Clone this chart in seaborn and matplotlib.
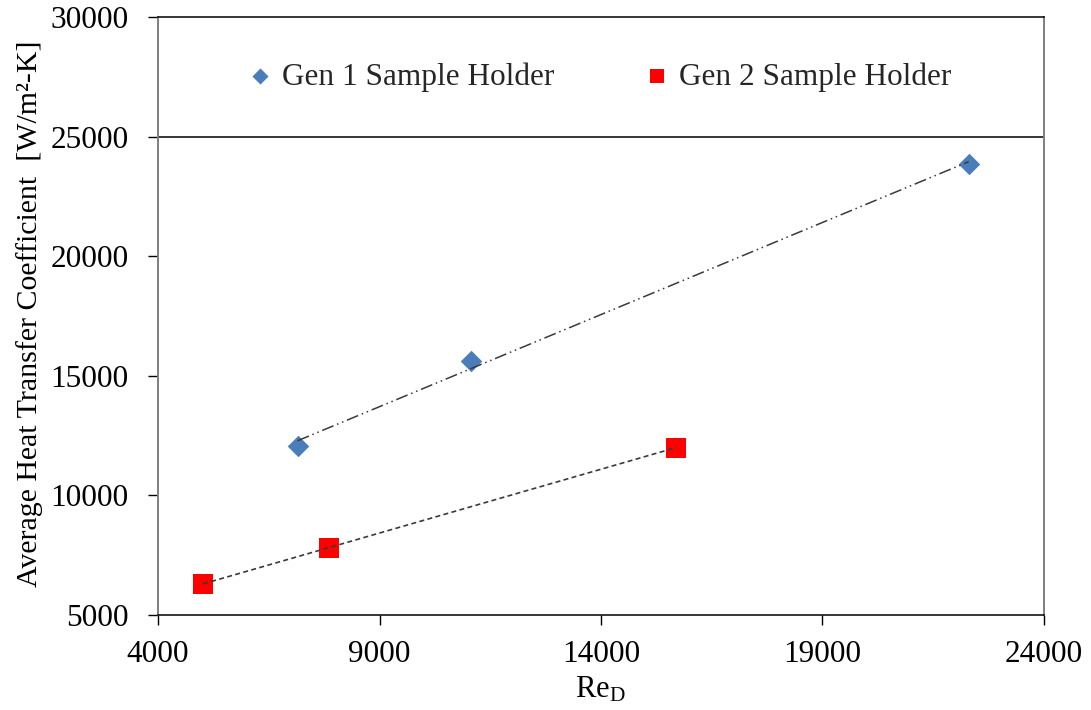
import numpy as np
import pandas as pd
import matplotlib
matplotlib.use("Agg")
import matplotlib.pyplot as plt
import seaborn as sns

# Reynolds number vs. average heat transfer coefficient for two sample holders
gen1_re = [7150, 11070, 22300]
gen1_h = [12050, 15620, 23870]
gen2_re = [5020, 7856, 15700]
gen2_h = [6300, 7820, 12000]
series_names = ["Gen 1 Sample Holder", "Gen 2 Sample Holder"]
x_ticks = [4000, 9000, 14000, 19000, 24000]
y_ticks = [5000, 10000, 15000, 20000, 25000, 30000]

df = pd.DataFrame({
    "Re": gen1_re + gen2_re,
    "h": gen1_h + gen2_h,
    "holder": [series_names[0]] * len(gen1_re) + [series_names[1]] * len(gen2_re),
})

sns.set_theme(style="white")
plt.rcParams["font.family"] = ["Liberation Serif", "DejaVu Serif"]
plt.rcParams["mathtext.fontset"] = "custom"
plt.rcParams["mathtext.rm"] = "Liberation Serif"
plt.rcParams["mathtext.it"] = "Liberation Serif:italic"

fig = plt.figure(figsize=(10.91, 7.10), dpi=100)
ax = fig.add_axes([158 / 1091, 1 - 615 / 710, (1044 - 158) / 1091, (615 - 17) / 710])

palette = {series_names[0]: "#4A7EBB", series_names[1]: "#FF0000"}
markers = {series_names[0]: "D", series_names[1]: "s"}
sizes = {series_names[0]: 120, series_names[1]: 200}

for name in series_names:
    sub = df[df["holder"] == name]
    sns.scatterplot(data=sub, x="Re", y="h", ax=ax, color=palette[name],
                    marker=markers[name], s=sizes[name], linewidth=0,
                    label=name, zorder=3)

# Linear trendlines over each series' range
sns.regplot(data=df[df["holder"] == series_names[0]], x="Re", y="h", ax=ax,
            scatter=False, ci=None, truncate=True,
            line_kws=dict(color="#3a3a3a", lw=1.1, dashes=(8, 2.5, 1, 2.5, 1, 2.5), zorder=4))
sns.regplot(data=df[df["holder"] == series_names[1]], x="Re", y="h", ax=ax,
            scatter=False, ci=None, truncate=True,
            line_kws=dict(color="#3a3a3a", lw=1.2, dashes=(3, 2), zorder=4))

ax.set_xlim(4000, 24000)
ax.set_ylim(5000, 30000)
ax.set_xticks(x_ticks)
ax.set_yticks(y_ticks)
ax.tick_params(axis="both", direction="out", length=7, width=1.0, color="black",
               labelsize=22.5, labelcolor="black")
ax.tick_params(axis="x", pad=11, bottom=True)
ax.tick_params(axis="y", pad=14, left=True)

for side in ("left", "right"):
    ax.spines[side].set_color("#7f7f7f")
    ax.spines[side].set_linewidth(1.4)
for side in ("top", "bottom"):
    ax.spines[side].set_color("black")
    ax.spines[side].set_linewidth(1.1)

# Legend band border
ax.axhline(25000, color="black", lw=1.1, zorder=2)

ax.set_xlabel("")
ax.set_ylabel("")
fig.text(600 / 1091, 1 - 690 / 710, "Re$_{\\mathrm{D}}$", ha="center", va="center",
         fontsize=22, color="black")
fig.text(30 / 1091, 1 - 314 / 710, "Average Heat Transfer Coefficient  [W/m²-K]",
         rotation=90, ha="center", va="center", fontsize=21.5, color="black")

handles, labels = ax.get_legend_handles_labels()
ax.legend(handles[:2], labels[:2], ncol=2, loc="center",
          bbox_to_anchor=(0.5, 0.9), frameon=False, fontsize=22.5,
          handlelength=0.6, handletextpad=0.4, columnspacing=3.0,
          markerscale=0.75)

fig.savefig("out.png", dpi=100)
